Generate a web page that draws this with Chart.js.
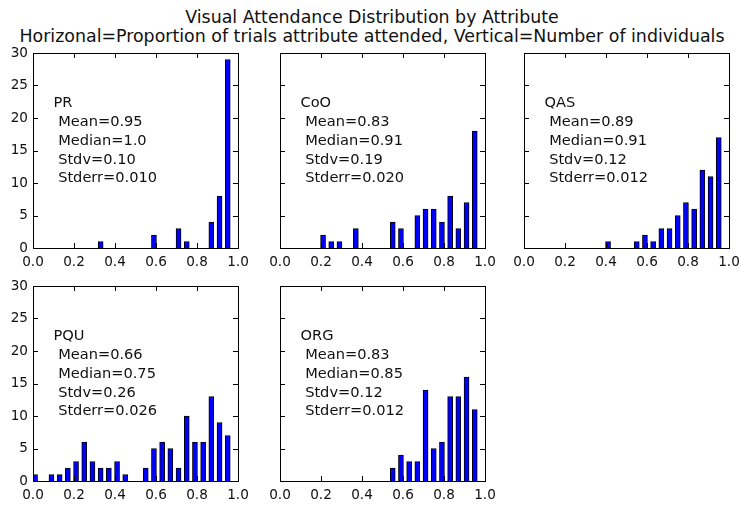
<!DOCTYPE html>
<html>
<head>
<meta charset="utf-8">
<script src="https://cdn.jsdelivr.net/npm/chart.js@4.4.1/dist/chart.umd.min.js"></script>
<style>
  body { margin: 0; background: #fff; width: 740px; height: 509px; overflow: hidden; position: relative; font-family: "DejaVu Sans", sans-serif; }
  #title { position: absolute; left: 0; top: 8px; width: 744px; text-align: center; font-size: 17.4px; line-height: 19px; color: #111; }
  canvas { position: absolute; }
</style>
</head>
<body>
<div id="title">Visual Attendance Distribution by Attribute<br>Horizonal=Proportion of trials attribute attended, Vertical=Number of individuals</div>
<canvas id="c0"></canvas>
<canvas id="c1"></canvas>
<canvas id="c2"></canvas>
<canvas id="c3"></canvas>
<canvas id="c4"></canvas>
<script>
// histogram data (bar centre -> count)
const panelNames = ['PR', 'CoO', 'QAS', 'PQU', 'ORG'];

const prBins = [0.33, 0.59, 0.71, 0.75, 0.87, 0.91, 0.95];
const prCounts = [1, 2, 3, 1, 4, 8, 29];

const cooBins = [0.21, 0.25, 0.29, 0.37, 0.55, 0.59, 0.67, 0.71, 0.75, 0.79, 0.83, 0.87, 0.91, 0.95];
const cooCounts = [2, 1, 1, 3, 4, 3, 5, 6, 6, 4, 8, 3, 7, 18];

const qasBins = [0.41, 0.55, 0.59, 0.63, 0.67, 0.71, 0.75, 0.79, 0.83, 0.87, 0.91, 0.95];
const qasCounts = [1, 1, 2, 1, 3, 3, 5, 7, 6, 12, 11, 17];

const pquBins = [0.01, 0.09, 0.13, 0.17, 0.21, 0.25, 0.29, 0.33, 0.37, 0.41, 0.45, 0.55, 0.59, 0.63, 0.67, 0.71, 0.75, 0.79, 0.83, 0.87, 0.91, 0.95];
const pquCounts = [1, 1, 1, 2, 3, 6, 3, 2, 2, 3, 1, 2, 5, 6, 5, 2, 10, 6, 6, 13, 9, 7];

const orgBins = [0.55, 0.59, 0.63, 0.67, 0.71, 0.75, 0.79, 0.83, 0.87, 0.91, 0.95];
const orgCounts = [2, 4, 3, 3, 14, 5, 6, 13, 13, 16, 11];

const means = ['0.95', '0.83', '0.89', '0.66', '0.83'];
const medians = ['1.0', '0.91', '0.91', '0.75', '0.85'];
const stdvs = ['0.10', '0.19', '0.12', '0.26', '0.12'];
const stderrs = ['0.010', '0.020', '0.012', '0.026', '0.012'];

const xRange = [0, 1];
const xStep = 0.2;
const yRange = [0, 30];
const yStep = 5;

const allBins = [prBins, cooBins, qasBins, pquBins, orgBins];
const allCounts = [prCounts, cooCounts, qasCounts, pquCounts, orgCounts];

// layout of the 3x2 grid (plot area boxes)
const colLeft = [33, 280, 524];
const rowTop = [53, 286];
const areaW = 205, areaH = 195;
const padL = 40, padT = 12, padR = 14, padB = 30;

// matplotlib-like frame with inward ticks on all four sides
const framePlugin = {
  id: 'frame',
  afterDraw(chart) {
    const { ctx, chartArea: a, scales: { x, y } } = chart;
    ctx.save();
    ctx.strokeStyle = '#000';
    ctx.lineWidth = 1;
    ctx.beginPath();
    x.ticks.forEach(t => {
      const px = Math.round(x.getPixelForValue(t.value)) + 0.5;
      ctx.moveTo(px, a.bottom); ctx.lineTo(px, a.bottom - 5);
      ctx.moveTo(px, a.top); ctx.lineTo(px, a.top + 5);
    });
    y.ticks.forEach(t => {
      const py = Math.round(y.getPixelForValue(t.value)) + 0.5;
      ctx.moveTo(a.left, py); ctx.lineTo(a.left + 5, py);
      ctx.moveTo(a.right, py); ctx.lineTo(a.right - 5, py);
    });
    ctx.stroke();
    ctx.strokeRect(Math.round(a.left) + 0.5, Math.round(a.top) + 0.5, Math.round(a.right - a.left), Math.round(a.bottom - a.top));
    ctx.restore();
  }
};

// stats text block in each panel
const notePlugin = {
  id: 'note',
  afterDatasetsDraw(chart, args, opts) {
    const { ctx, scales: { x, y } } = chart;
    const px = x.getPixelForValue(0.1);
    let py = y.getPixelForValue(22.2);
    ctx.save();
    ctx.fillStyle = '#111';
    ctx.font = '14.6px "DejaVu Sans"';
    ctx.textAlign = 'left';
    ctx.textBaseline = 'middle';
    opts.lines.forEach(line => {
      ctx.fillText(line, px, py);
      py += 18.7;
    });
    ctx.restore();
  }
};

panelNames.forEach((name, i) => {
  const col = i % 3, row = Math.floor(i / 3);
  const canvas = document.getElementById('c' + i);
  canvas.width = areaW + padL + padR;
  canvas.height = areaH + padT + padB;
  canvas.style.left = (colLeft[col] - padL) + 'px';
  canvas.style.top = (rowTop[row] - padT) + 'px';
  const showY = col === 0;

  new Chart(canvas.getContext('2d'), {
    type: 'bar',
    data: {
      datasets: [{
        data: allBins[i].map((b, k) => ({ x: b, y: allCounts[i][k] })),
        backgroundColor: '#0000ff',
        borderColor: '#000',
        borderWidth: 1,
        barThickness: 5,
      }],
    },
    options: {
      responsive: false,
      animation: false,
      layout: { padding: { top: padT, right: padR, left: 0, bottom: 0 } },
      plugins: {
        legend: { display: false },
        tooltip: { enabled: false },
        note: {
          lines: [name, ' Mean=' + means[i], ' Median=' + medians[i], ' Stdv=' + stdvs[i], ' Stderr=' + stderrs[i]],
        },
      },
      scales: {
        x: {
          type: 'linear',
          offset: false,
          min: xRange[0],
          max: xRange[1],
          grid: { display: false, drawTicks: false },
          border: { display: false },
          ticks: {
            stepSize: xStep,
            autoSkip: false,
            maxRotation: 0,
            padding: 6,
            color: '#111',
            font: { family: 'DejaVu Sans', size: 13.6 },
            callback: v => v.toFixed(1),
          },
          afterFit: s => { s.height = padB; s.paddingLeft = 0; s.paddingRight = 0; },
        },
        y: {
          min: yRange[0],
          max: yRange[1],
          grid: { display: false, drawTicks: false },
          border: { display: false },
          ticks: {
            display: showY,
            stepSize: yStep,
            padding: 5,
            color: '#111',
            font: { family: 'DejaVu Sans', size: 13.6 },
          },
          afterFit: s => { s.width = padL; s.paddingTop = 0; s.paddingBottom = 0; },
        },
      },
    },
    plugins: [framePlugin, notePlugin],
  });
});
</script>
</body>
</html>
